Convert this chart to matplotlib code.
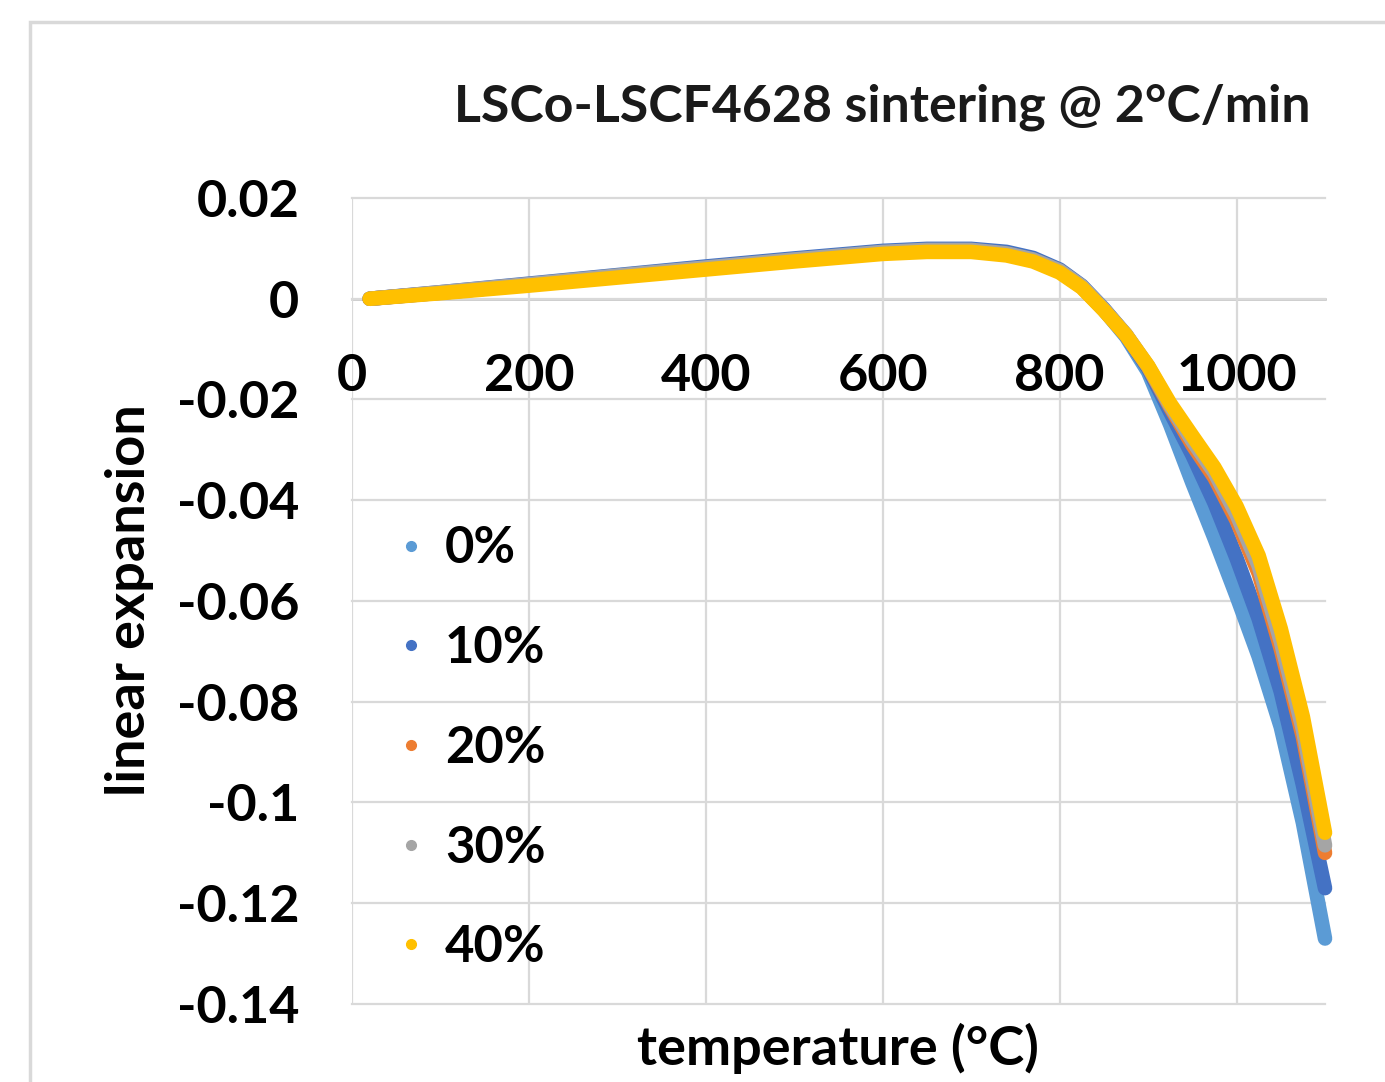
import numpy as np
import matplotlib
matplotlib.use("Agg")
import matplotlib.pyplot as plt
from matplotlib.lines import Line2D
from matplotlib.patches import Rectangle

# temperature (°C)
temp = [20, 100, 200, 300, 400, 500, 600, 650, 700, 740, 770, 800, 825, 850,
        875, 900, 925, 950, 975, 1000, 1025, 1050, 1075, 1100]

# linear expansion for each LSCF4628 fraction
exp_0 = [0.0, 0.0012, 0.0028, 0.0045, 0.0062, 0.0078, 0.0093, 0.0097, 0.0097, 0.0091,
         0.0079, 0.0056, 0.0024, -0.0022, -0.0075, -0.0145, -0.0250, -0.0365, -0.0475,
         -0.0590, -0.0710, -0.0850, -0.1040, -0.1270]
exp_10 = [0.0, 0.0013, 0.0030, 0.0047, 0.0064, 0.0080, 0.0095, 0.0099, 0.0099, 0.0093,
          0.0081, 0.0058, 0.0026, -0.0020, -0.0072, -0.0138, -0.0225, -0.0310, -0.0405,
          -0.0515, -0.0635, -0.0780, -0.0965, -0.1170]
exp_20 = [0.0, 0.0012, 0.0028, 0.0044, 0.0060, 0.0076, 0.0091, 0.0095, 0.0095, 0.0088,
          0.0076, 0.0054, 0.0023, -0.0022, -0.0072, -0.0135, -0.0215, -0.0290, -0.0355,
          -0.0440, -0.0545, -0.0695, -0.0870, -0.1100]
exp_30 = [0.0, 0.0013, 0.0029, 0.0046, 0.0062, 0.0078, 0.0093, 0.0097, 0.0097, 0.0090,
          0.0078, 0.0056, 0.0025, -0.0021, -0.0071, -0.0134, -0.0212, -0.0282, -0.0345,
          -0.0428, -0.0530, -0.0680, -0.0855, -0.1085]
exp_40 = [0.0, 0.0011, 0.0026, 0.0042, 0.0058, 0.0074, 0.0089, 0.0093, 0.0093, 0.0086,
          0.0074, 0.0052, 0.0022, -0.0023, -0.0072, -0.0133, -0.0208, -0.0272, -0.0335,
          -0.0412, -0.0510, -0.0655, -0.0830, -0.1060]

labels = ["0%", "10%", "20%", "30%", "40%"]
colors = ["#5B9BD5", "#4472C4", "#ED7D31", "#A5A5A5", "#FFC000"]
series = [exp_0, exp_10, exp_20, exp_30, exp_40]

xticks = [0, 200, 400, 600, 800, 1000]
yticks = [0.02, 0, -0.02, -0.04, -0.06, -0.08, -0.1, -0.12, -0.14]
ytick_labels = ["0.02", "0", "-0.02", "-0.04", "-0.06", "-0.08", "-0.1", "-0.12", "-0.14"]

plt.rcParams['font.family'] = ['Lato', 'DejaVu Sans']

W, H = 1385, 1082
fig = plt.figure(figsize=(W / 100, H / 100), dpi=100)
fig.patch.set_facecolor("white")

def fx(px):
    return px / W

def fy(py):
    return 1 - py / H

# chart area outline (cropped at right/bottom)
fig.patches.append(Rectangle((fx(30), fy(1090)), fx(1400) - fx(30), fy(22) - fy(1090),
                             transform=fig.transFigure, fill=False,
                             edgecolor="#d9d9d9", lw=2.5))

ax = fig.add_axes([fx(352), fy(1004), fx(1325) - fx(352), fy(198) - fy(1004)])
ax.set_xlim(0, 1100)
ax.set_ylim(-0.14, 0.02)

for s, c, lab in zip(series, colors, labels):
    ax.plot(temp, s, color=c, lw=10.5, solid_capstyle="round",
            solid_joinstyle="round", label=lab, zorder=3, clip_on=False)

ax.set_xticks(xticks)
ax.set_yticks(yticks)
ax.set_yticklabels(ytick_labels)
ax.grid(True, color="#d9d9d9", lw=1.6, zorder=0)
for g in ax.get_xgridlines() + ax.get_ygridlines():
    g.set_clip_on(False)
for side in ["top", "right", "left"]:
    ax.spines[side].set_visible(False)
ax.spines["bottom"].set_position(("data", 0))
ax.spines["bottom"].set_color("#bfbfbf")
ax.spines["bottom"].set_linewidth(1.8)
ax.spines["bottom"].set_zorder(1)
ax.tick_params(axis="both", length=0, labelsize=37.5)
ax.tick_params(axis="x", pad=39)
ax.tick_params(axis="y", pad=38)
for t in ax.get_xticklabels() + ax.get_yticklabels():
    t.set_fontweight("bold")

handles = [Line2D([], [], ls="none", marker="o", ms=7, color=c) for c in colors]
ax.legend(handles, labels, loc="upper left", bbox_to_anchor=(fx(370), fy(500)),
          bbox_transform=fig.transFigure, frameon=False,
          prop={"weight": "bold", "size": 36.5}, labelspacing=1.04,
          handlelength=0.6, handletextpad=0.38, borderpad=0)

fig.text(fx(882), fy(107), "LSCo-LSCF4628 sintering @ 2°C/min", ha="center",
         va="center", fontsize=37.4, fontweight="bold", color="#1a1a1a")
fig.text(fx(838), fy(1048), "temperature (°C)", ha="center", va="center",
         fontsize=39, fontweight="bold")
fig.text(fx(130), fy(600), "linear expansion", ha="center", va="center",
         rotation=90, fontsize=39, fontweight="bold")

fig.savefig("out.png", dpi=100, facecolor="white")
